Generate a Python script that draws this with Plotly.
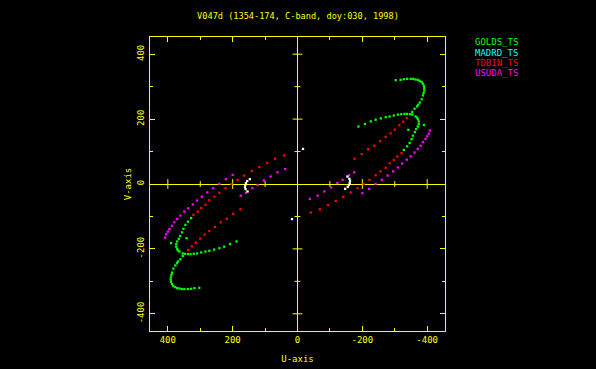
import plotly.graph_objects as go

# ---- data (one half of the UV track; conjugate points (-u,-v) are also plotted) ----
title_text = "V047d (1354-174, C-band, doy:030, 1998)"
stations = ["GOLDS_TS", "MADRD_TS", "TDBIN_TS", "USUDA_TS"]
station_colors = ["#00ff00", "#00ffff", "#ff0000", "#ff00ff"]

golds_u = [-303, -318, -328, -338, -349, -357, -364, -371, -377, -383, -387, -390, -391, -391,
           -389, -387, -383, -377, -372, -369, -361, -354,
           -364, -369, -371, -374, -374, -371, -366, -362, -356, -352, -346, -338, -328,
           -390, -342,
           -188, -208, -226, -241, -257, -272, -284, -297, -310, -320, -330, -338, -347, -354]
golds_v = [320, 321, 323, 324, 324, 324, 322, 321, 318, 314, 309, 302, 295, 288,
           280, 273, 261, 251, 244, 239, 232, 222,
           208, 205, 200, 193, 185, 177, 169, 160, 149, 138, 126, 116, 105,
           182, 167,
           177, 185, 193, 198, 202, 206, 208, 211, 214, 215, 216, 216, 215, 214]

madrd_u = []
madrd_v = []

tdbin_u = [-41, -69, -94, -118, -141, -164, -185, -204, -222, -241, -256, -272, -284, -297, -308, -321,
           -176, -198, -218, -237, -255, -272, -287, -300, -314, -326, -337]
tdbin_v = [-88, -78, -65, -52, -40, -26, -13, 0, 13, 27, 39, 50, 64, 74, 85, 95,
           78, 92, 107, 118, 132, 145, 156, 168, 181, 192, 203]

usuda_u = [-408, -405, -400, -395, -387, -380, -371, -361, -349, -337, -323, -310, -295, -278, -260,
           -241, -221, -200,
           -175, -159, -139, -123, -104, -83, -62, -38]
usuda_v = [165, 155, 147, 139, 129, 118, 108, 97, 85, 75, 63, 51, 39, 26, 13,
           0, -15, -28,
           36, 27, 13, 3, -11, -23, -36, -46]

other_u = [-154, -160, -162, -161, -159, -155, -147, -17]
other_v = [23, 16, 10, 3, -3, -9, -15, 108]

major_ticks = [400, 200, 0, -200, -400]
major_labels = ["400", "200", "0", "-200", "-400"]
axis_major = [-400, -200, 200, 400]
axis_minor = [-300, -100, 100, 300]

YEL = "#ffff00"
FONT = "DejaVu Sans Mono"

fig = go.Figure()


def add_track(u, v, color):
    uu = list(u) + [-a for a in u]
    vv = list(v) + [-b for b in v]
    fig.add_trace(go.Scatter(x=uu, y=vv, mode="markers",
                             marker=dict(symbol="square", size=2.3, color=color, line=dict(width=0)),
                             showlegend=False, hoverinfo="skip"))


# tick marks crossing the zero axes (line symbols are 1.4*size long)
for vals, size in ((axis_major, 7), (axis_minor, 4.2)):
    fig.add_trace(go.Scatter(x=vals, y=[0] * len(vals), mode="markers",
                             marker=dict(symbol="line-ns", size=size, line=dict(color=YEL, width=1)),
                             showlegend=False, hoverinfo="skip"))
    fig.add_trace(go.Scatter(x=[0] * len(vals), y=vals, mode="markers",
                             marker=dict(symbol="line-ew", size=size, line=dict(color=YEL, width=1)),
                             showlegend=False, hoverinfo="skip"))

add_track(golds_u, golds_v, station_colors[0])
add_track(madrd_u, madrd_v, station_colors[1])
add_track(tdbin_u, tdbin_v, station_colors[2])
add_track(usuda_u, usuda_v, station_colors[3])
add_track(other_u, other_v, "#ffffff")

axis_common = dict(
    showgrid=False, zeroline=True, zerolinecolor=YEL, zerolinewidth=1,
    showline=True, linecolor=YEL, linewidth=1, mirror="ticks",
    ticks="inside", ticklen=5, tickcolor=YEL, tickwidth=1,
    tickvals=major_ticks, ticktext=major_labels,
    tickfont=dict(family=FONT, size=9, color=YEL),
    minor=dict(dtick=100, ticks="inside", ticklen=3, tickcolor=YEL, tickwidth=1, showgrid=False),
    automargin=False,
)

fig.update_xaxes(range=[455, -455], ticklabelstandoff=0,
                 title=dict(text="U-axis", font=dict(family=FONT, size=9, color=YEL), standoff=11),
                 **axis_common)
fig.update_yaxes(range=[-453, 453], tickangle=-90, ticklabelstandoff=1,
                 title=dict(text="V-axis", font=dict(family=FONT, size=9, color=YEL), standoff=3),
                 **axis_common)

# legend as coloured text
for i, (name, col) in enumerate(zip(stations, station_colors)):
    fig.add_annotation(x=1.095, y=0.982 - i * 0.0352, xref="paper", yref="paper",
                       text=name, showarrow=False, xanchor="left", yanchor="middle",
                       font=dict(family=FONT, size=9, color=col))

fig.update_layout(
    width=596, height=369, autosize=False,
    margin=dict(l=150, r=151, t=37, b=38),
    paper_bgcolor="black", plot_bgcolor="black",
    title=dict(text=title_text, x=0.5, xanchor="center", y=1 - 16 / 369, yanchor="middle",
               font=dict(family=FONT, size=8.6, color=YEL)),
    showlegend=False,
)

fig.write_html("out.html", config={"displayModeBar": False},
               post_script="document.body.style.margin='0';document.body.style.background='black';"
                           "document.body.style.overflow='hidden';")
